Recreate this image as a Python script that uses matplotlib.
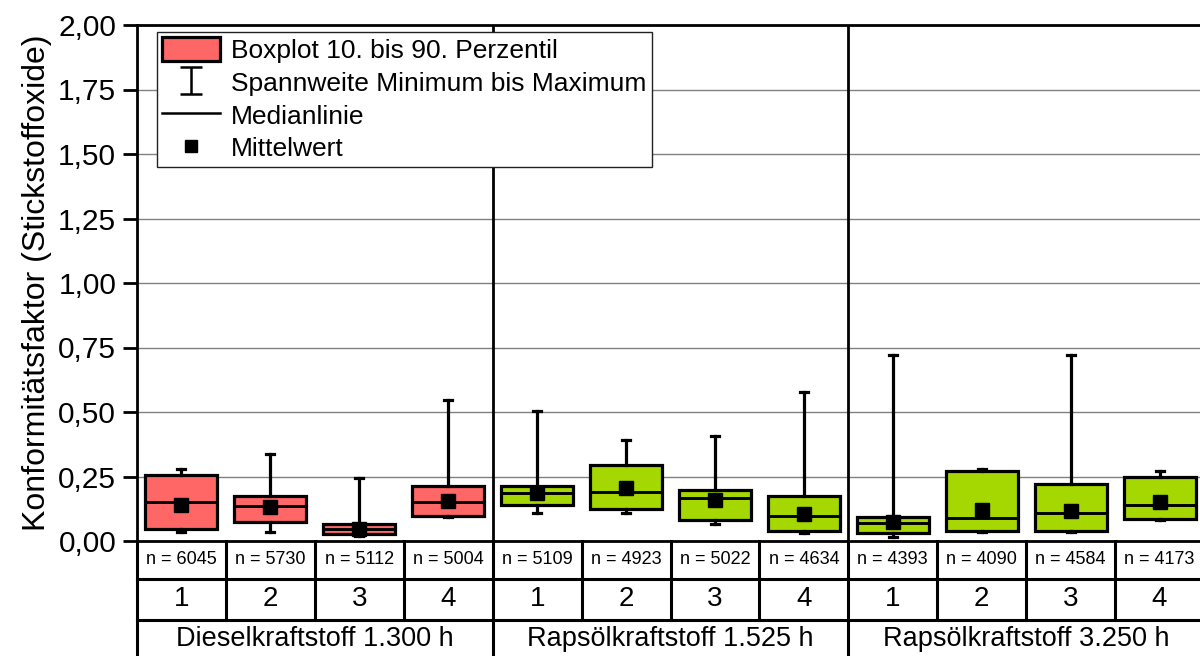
import matplotlib
matplotlib.use("Agg")
import matplotlib.pyplot as plt
import matplotlib.transforms as mtransforms
from matplotlib.patches import Patch
from matplotlib.lines import Line2D

plt.rcParams['font.family'] = ['Liberation Sans', 'DejaVu Sans']

# Konformitätsfaktoren NOx je Messung (10./90. Perzentil, Median, Mittelwert, Min/Max)
groups = ['Dieselkraftstoff 1.300 h', 'Rapsölkraftstoff 1.525 h', 'Rapsölkraftstoff 3.250 h']
runs = ['1', '2', '3', '4'] * 3
n_values = [6045, 5730, 5112, 5004, 5109, 4923, 5022, 4634, 4393, 4090, 4584, 4173]
p10 = [0.048, 0.072, 0.026, 0.098, 0.138, 0.125, 0.083, 0.040, 0.032, 0.040, 0.039, 0.086]
p90 = [0.256, 0.174, 0.065, 0.212, 0.214, 0.295, 0.198, 0.174, 0.093, 0.271, 0.220, 0.249]
median = [0.150, 0.136, 0.045, 0.150, 0.185, 0.190, 0.167, 0.096, 0.069, 0.088, 0.107, 0.140]
mean = [0.140, 0.133, 0.045, 0.154, 0.186, 0.205, 0.159, 0.103, 0.072, 0.120, 0.116, 0.151]
minimum = [0.035, 0.035, 0.020, 0.093, 0.107, 0.110, 0.066, 0.032, 0.014, 0.034, 0.036, 0.080]
maximum = [0.279, 0.338, 0.243, 0.545, 0.503, 0.393, 0.406, 0.579, 0.720, 0.279, 0.720, 0.272]
yticks = [0.0, 0.25, 0.5, 0.75, 1.0, 1.25, 1.5, 1.75, 2.0]

red = '#FF6666'
green = '#A5D700'
box_colors = [red] * 4 + [green] * 8

W, H = 1200, 656
fig = plt.figure(figsize=(12, 6.56), dpi=100)
ax = fig.add_axes([137 / W, 1 - 541 / H, (1204 - 137) / W, 516 / H])

stats = []
for i in range(12):
    stats.append(dict(med=median[i], q1=p10[i], q3=p90[i], whislo=minimum[i],
                      whishi=maximum[i], mean=mean[i], fliers=[]))

pos = [i + 0.5 for i in range(12)]
bp = ax.bxp(stats, positions=pos, widths=0.81, capwidths=0.09, patch_artist=True,
            showmeans=True, showfliers=False,
            boxprops=dict(edgecolor='black', linewidth=2.3),
            whiskerprops=dict(color='black', linewidth=2.3),
            capprops=dict(color='black', linewidth=2.3),
            medianprops=dict(color='black', linewidth=2.1),
            meanprops=dict(marker='s', markerfacecolor='black', markeredgecolor='black',
                           markersize=9.5))
for patch, c in zip(bp['boxes'], box_colors):
    patch.set_facecolor(c)
    patch.set_zorder(3)
for key in ['whiskers', 'caps', 'medians', 'means']:
    for art in bp[key]:
        art.set_zorder(4)

ax.set_xlim(0, 12)
ax.set_ylim(0, 2.0)
ax.set_yticks(yticks)
ax.set_yticklabels([f'{v:.2f}'.replace('.', ',') for v in yticks], fontsize=21.5)
ax.set_xticks([])
ax.tick_params(axis='y', direction='out', length=10, width=2.0, pad=5)
ax.yaxis.grid(True, color='#808080', linewidth=1.0)
ax.set_axisbelow(True)
ax.set_ylabel('Konformitätsfaktor (Stickstoffoxide)', fontsize=23, labelpad=4)

for side in ['left', 'bottom', 'top']:
    ax.spines[side].set_linewidth(2.0)
ax.spines['right'].set_visible(False)

# Trennlinien zwischen den Kraftstoffvarianten
for xg in [4, 8]:
    ax.axvline(xg, color='black', linewidth=2.0, zorder=2)

# Tabelle unter dem Diagramm
tr = mtransforms.blended_transform_factory(ax.transData, fig.transFigure)
y_top = 1 - 541 / H
y_r1 = 1 - 579 / H
y_r2 = 1 - 620 / H
y_bot = -0.05
line_kw = dict(color='black', linewidth=2.2, transform=tr, clip_on=False)
fig.add_artist(Line2D([0, 12.2], [y_r1, y_r1], **line_kw))
fig.add_artist(Line2D([0, 12.2], [y_r2, y_r2], **line_kw))
fig.add_artist(Line2D([0, 0], [y_top, y_bot], **line_kw))
for xs in range(1, 12):
    if xs % 4 == 0:
        fig.add_artist(Line2D([xs, xs], [y_top, y_bot], **line_kw))
    else:
        fig.add_artist(Line2D([xs, xs], [y_top, y_r2], **line_kw))

for i in range(12):
    fig.text(pos[i], (y_top + y_r1) / 2, f'n = {n_values[i]}', transform=tr,
             ha='center', va='center', fontsize=13)
    fig.text(pos[i], (y_r1 + y_r2) / 2, runs[i], transform=tr,
             ha='center', va='center', fontsize=20)
for g, name in enumerate(groups):
    fig.text(4 * g + 2, 1 - 639 / H, name, transform=tr,
             ha='center', va='center', fontsize=19.5)

# Legende
eb = ax.errorbar([-5], [-5], yerr=[1], fmt='none', ecolor='black', elinewidth=1.8,
                 capsize=8, capthick=1.8)
handles = [Patch(facecolor=red, edgecolor='black', linewidth=2.3), eb,
           Line2D([], [], color='black', linewidth=1.8),
           Line2D([], [], linestyle='none', marker='s', color='black', markersize=9)]
labels = ['Boxplot 10. bis 90. Perzentil', 'Spannweite Minimum bis Maximum',
          'Medianlinie', 'Mittelwert']
leg = ax.legend(handles, labels, loc='upper left', bbox_to_anchor=(157 / W, 1 - 32 / H),
                bbox_transform=fig.transFigure, borderaxespad=0, fontsize=19,
                fancybox=False, framealpha=1, edgecolor='#222222', handlelength=2.2,
                handleheight=1.0, handletextpad=0.4, labelspacing=0.26,
                borderpad=0.2)
leg.get_frame().set_linewidth(1.0)
leg.set_zorder(10)

fig.savefig('out.png', dpi=100)
